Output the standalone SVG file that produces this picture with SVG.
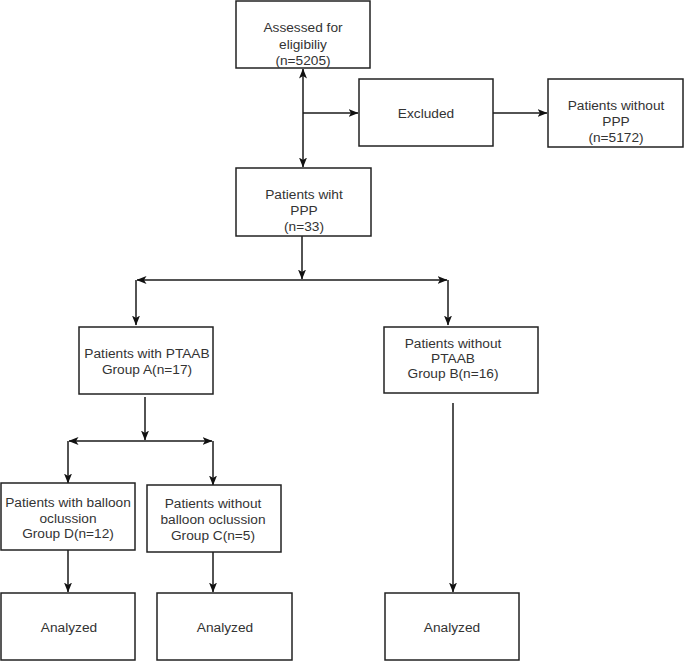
<svg xmlns="http://www.w3.org/2000/svg" width="685" height="662" viewBox="0 0 685 662">
<style>
.box{fill:#fff;stroke:#222;stroke-width:1.5}
.t{font-family:"Liberation Sans",Arial,sans-serif;font-size:13.7px;fill:#333;text-anchor:middle}
.c{fill:none;stroke:#1a1a1a;stroke-width:1.5}
</style>
<defs>
<marker id="ah" markerUnits="userSpaceOnUse" markerWidth="10" markerHeight="8" refX="9.5" refY="4" orient="auto-start-reverse">
<path d="M0,0 L10,4 L0,8 L2.5,4 z" fill="#111"/>
</marker>
</defs>
<rect width="685" height="662" fill="#fff"/>
<g id="connectors">
<path class="c" d="M303,69 L303,167" marker-start="url(#ah)" marker-end="url(#ah)"/>
<path class="c" d="M303,113 L358,113" marker-end="url(#ah)"/>
<path class="c" d="M493,113 L547,113" marker-end="url(#ah)"/>
<path class="c" d="M302,236 L302,279" marker-end="url(#ah)"/>
<path class="c" d="M137,280 L447,280" marker-start="url(#ah)" marker-end="url(#ah)"/>
<path class="c" d="M136,280 L136,325" marker-end="url(#ah)"/>
<path class="c" d="M448,280 L448,325" marker-end="url(#ah)"/>
<path class="c" d="M145,397 L145,440" marker-end="url(#ah)"/>
<path class="c" d="M69,441 L212,441" marker-start="url(#ah)" marker-end="url(#ah)"/>
<path class="c" d="M68,441 L68,483" marker-end="url(#ah)"/>
<path class="c" d="M213,441 L213,485" marker-end="url(#ah)"/>
<path class="c" d="M453,403 L453,592" marker-end="url(#ah)"/>
<path class="c" d="M68,550 L68,592" marker-end="url(#ah)"/>
<path class="c" d="M213,552 L213,592" marker-end="url(#ah)"/>
</g>
<g id="assessed">
<rect class="box" x="236" y="1" width="134" height="67"/>
<text class="t" x="303" y="32">Assessed for</text>
<text class="t" x="303" y="48.5">eligibiliy</text>
<text class="t" x="303" y="65">(n=5205)</text>
</g>
<g id="excluded">
<rect class="box" x="359" y="79" width="134" height="67"/>
<text class="t" x="426" y="118">Excluded</text>
</g>
<g id="without-ppp">
<rect class="box" x="548" y="79" width="135" height="68"/>
<text class="t" x="616" y="110">Patients without</text>
<text class="t" x="616" y="126">PPP</text>
<text class="t" x="616" y="142">(n=5172)</text>
</g>
<g id="with-ppp">
<rect class="box" x="236" y="168" width="135" height="68"/>
<text class="t" x="304" y="199">Patients wiht</text>
<text class="t" x="304" y="215">PPP</text>
<text class="t" x="304" y="231">(n=33)</text>
</g>
<g id="group-a">
<rect class="box" x="79" y="327" width="134" height="67"/>
<text class="t" x="147" y="358">Patients with PTAAB</text>
<text class="t" x="147" y="374">Group A(n=17)</text>
</g>
<g id="group-b">
<rect class="box" x="384" y="327" width="154" height="66"/>
<text class="t" x="453" y="348">Patients without</text>
<text class="t" x="453" y="363">PTAAB</text>
<text class="t" x="453" y="378">Group B(n=16)</text>
</g>
<g id="group-d">
<rect class="box" x="1" y="483" width="134" height="67"/>
<text class="t" x="68" y="507">Patients with balloon</text>
<text class="t" x="68" y="523">oclussion</text>
<text class="t" x="68" y="538">Group D(n=12)</text>
</g>
<g id="group-c">
<rect class="box" x="147" y="485" width="134" height="67"/>
<text class="t" x="213" y="508">Patients without</text>
<text class="t" x="213" y="524">balloon oclussion</text>
<text class="t" x="213" y="540">Group C(n=5)</text>
</g>
<g id="analyzed-d">
<rect class="box" x="1" y="593" width="134" height="67"/>
<text class="t" x="69" y="632">Analyzed</text>
</g>
<g id="analyzed-c">
<rect class="box" x="157" y="593" width="135" height="67"/>
<text class="t" x="225" y="632">Analyzed</text>
</g>
<g id="analyzed-b">
<rect class="box" x="385" y="593" width="134" height="67"/>
<text class="t" x="452" y="632">Analyzed</text>
</g>
</svg>
